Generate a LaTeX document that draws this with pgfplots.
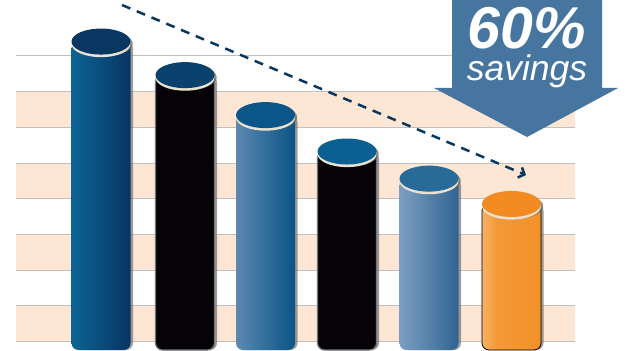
\documentclass[border=0pt]{standalone}
\usepackage{fontspec}
\setmainfont{Liberation Sans}
\usepackage{pgfplots}
\pgfplotsset{compat=1.18}
\usetikzlibrary{arrows.meta}

\definecolor{peach}{RGB}{253,230,212}
\definecolor{gridgray}{RGB}{192,192,192}
\definecolor{calloutblue}{RGB}{70,117,160}
\definecolor{arrowblue}{RGB}{10,55,95}
\definecolor{rimcol}{RGB}{235,225,210}
% bodies
\definecolor{b1l}{RGB}{12,100,148}
\definecolor{b1r}{RGB}{8,52,98}
\definecolor{b3l}{RGB}{92,136,176}
\definecolor{b3r}{RGB}{10,84,134}
\definecolor{b5l}{RGB}{124,158,192}
\definecolor{b5r}{RGB}{48,100,146}
\definecolor{b6l}{RGB}{255,246,236}
\definecolor{b6m}{RGB}{244,152,54}
\definecolor{b6r}{RGB}{242,140,34}
% tops
\definecolor{t1}{RGB}{8,56,98}
\definecolor{t2}{RGB}{10,66,110}
\definecolor{t3}{RGB}{10,86,136}
\definecolor{t4}{RGB}{10,96,146}
\definecolor{t5}{RGB}{40,106,152}
\definecolor{t6}{RGB}{242,140,34}

\pgfdeclarehorizontalshading{orangeshade}{100bp}{color(0bp)=(b6l); color(8bp)=(b6l!60!b6m); color(38bp)=(b6m); color(100bp)=(b6r)}

\pgfdeclareplotmark{cyltop}{%
  \pgfscope\pgfsetfillcolor{black!60}\pgfsetfillopacity{0.75}%
  \pgfpathellipse{\pgfpoint{2.2bp}{-2.2bp}}{\pgfpoint{29.5bp}{0bp}}{\pgfpoint{0bp}{13bp}}%
  \pgfusepath{fill}\endpgfscope
  \pgfscope\pgfsetfillcolor{rimcol}%
  \pgfpathellipse{\pgfpoint{0bp}{-2.6bp}}{\pgfpoint{29.5bp}{0bp}}{\pgfpoint{0bp}{13bp}}%
  \pgfusepath{fill}\endpgfscope
  \pgfpathellipse{\pgfpointorigin}{\pgfpoint{29.5bp}{0bp}}{\pgfpoint{0bp}{13bp}}%
  \pgfusepath{fill}%
}

\pgfplotsset{
  body/.style={ybar, bar width=59bp, bar shift=0pt, rounded corners=7bp},
  shadowbar/.style={ybar, bar width=59bp, bar shift=2.5bp, rounded corners=7bp,
    fill=black!55, draw=none, fill opacity=0.7},
  top/.style={only marks, mark=cyltop, mark options={fill=#1, draw=none}},
}

\begin{document}
\begin{tikzpicture}
\useasboundingbox (0,0) rectangle (625bp,351bp);
\clip (0,0) rectangle (625bp,351bp);
\begin{axis}[
  at={(0,0)}, anchor=south west,
  scale only axis, width=625bp, height=351bp,
  xmin=0, xmax=625, ymin=-0.028, ymax=9.804,
  hide axis, clip=false,
  unbounded coords=jump,
]
% background bands
\addplot[fill=peach, draw=none] coordinates {(16,0.238)(575,0.238)(575,1.238)(16,1.238)};
\addplot[fill=peach, draw=none] coordinates {(16,2.238)(575,2.238)(575,3.238)(16,3.238)};
\addplot[fill=peach, draw=none] coordinates {(16,4.238)(575,4.238)(575,5.238)(16,5.238)};
\addplot[fill=peach, draw=none] coordinates {(16,6.238)(575,6.238)(575,7.238)(16,7.238)};
% grid lines
\addplot[gridgray, line width=1bp] coordinates {
 (16,0.238)(575,0.238)(575,nan)
 (16,1.238)(575,1.238)(575,nan)
 (16,2.238)(575,2.238)(575,nan)
 (16,3.238)(575,3.238)(575,nan)
 (16,4.238)(575,4.238)(575,nan)
 (16,5.238)(575,5.238)(575,nan)
 (16,6.238)(575,6.238)(575,nan)
 (16,7.238)(575,7.238)(575,nan)
 (16,8.238)(575,8.238)};
% bar 1
\addplot[shadowbar] coordinates {(101,8.64)};
\addplot[body, draw=none, left color=b1l, right color=b1r] coordinates {(101,8.64)};
\addplot[top=t1] coordinates {(101,8.64)};
% bar 2
\addplot[shadowbar] coordinates {(185,7.70)};
\addplot[body, draw=black!55, line width=1.2bp, fill={rgb,255:red,5;green,3;blue,8}] coordinates {(185,7.70)};
\addplot[top=t2] coordinates {(185,7.70)};
% bar 3
\addplot[shadowbar] coordinates {(265.5,6.58)};
\addplot[body, draw=none, left color=b3l, right color=b3r] coordinates {(265.5,6.58)};
\addplot[top=t3] coordinates {(265.5,6.58)};
% bar 4
\addplot[shadowbar] coordinates {(347,5.56)};
\addplot[body, draw=black!55, line width=1.2bp, fill={rgb,255:red,5;green,3;blue,8}] coordinates {(347,5.56)};
\addplot[top=t4] coordinates {(347,5.56)};
% bar 5
\addplot[shadowbar] coordinates {(429,4.80)};
\addplot[body, draw=none, left color=b5l, right color=b5r] coordinates {(429,4.80)};
\addplot[top=t5] coordinates {(429,4.80)};
% bar 6
\addplot[shadowbar] coordinates {(511.5,4.09)};
\addplot[body, draw=black, line width=0.8bp, shading=orangeshade, shade] coordinates {(511.5,4.09)};
\addplot[top=t6] coordinates {(511.5,4.09)};

% dashed trend arrow
\draw[arrowblue, line width=2.5bp, dash pattern=on 9bp off 7bp,
  -{Straight Barb[length=5bp,width=11bp]}]
  (axis cs:122,9.664) -- (axis cs:526,4.90);

% callout arrow
\fill[calloutblue] (axis cs:452,9.95) -- (axis cs:602,9.95) -- (axis cs:602,7.339)
  -- (axis cs:618,7.339) -- (axis cs:527,5.966) -- (axis cs:434,7.339)
  -- (axis cs:452,7.339) -- cycle;
\node[white, anchor=south, inner sep=0pt, align=center,
  font=\itshape\fontsize{35.5bp}{32bp}\selectfont]
  at (axis cs:527,7.35)
  {{\bfseries\fontsize{59bp}{60bp}\selectfont 60\%}\\savings};
\end{axis}
\end{tikzpicture}
\end{document}
